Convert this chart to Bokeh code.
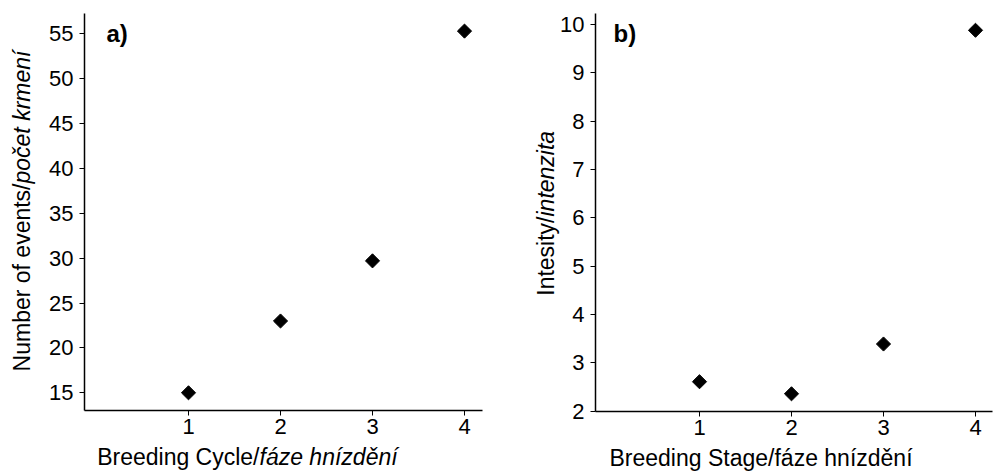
import math
from bokeh.plotting import figure
from bokeh.layouts import row
from bokeh.models import Label, FixedTicker, Range1d
from bokeh.embed import file_html
from bokeh.resources import INLINE

# ---- data ----
stages = [1, 2, 3, 4]
feeding_events = [15.0, 23.0, 29.7, 55.3]
intensity = [2.61, 2.36, 3.39, 9.88]
ticks_a_y = [15, 20, 25, 30, 35, 40, 45, 50, 55]
ticks_b_y = [2, 3, 4, 5, 6, 7, 8, 9, 10]
ticks_x = [1, 2, 3, 4]

FONT = "Liberation Sans"
TICK_SIZE = "22px"
TITLE_SIZE = "23px"
H = 473
SHIFT = 8  # compensation for baseline offset of rendered labels


def make_panel(width, x0_px, ppx, x_val0, y0_px, ppy, y_val0, x_axis_px, y_axis_px,
               x_bounds, y_bounds, yticks):
    # frame covers the whole canvas; axes are pinned with fixed_location
    xr = Range1d(x_val0 - x0_px / ppx, x_val0 + (width - x0_px) / ppx)
    yr = Range1d(y_val0 - (H - y0_px) / ppy, y_val0 + y0_px / ppy)
    p = figure(width=width, height=H, output_backend="svg", toolbar_location=None,
               x_range=xr, y_range=yr, min_border=0)
    p.outline_line_color = None
    p.xgrid.visible = False
    p.ygrid.visible = False
    p.background_fill_color = "white"
    p.border_fill_color = "white"
    for ax in (p.xaxis[0], p.yaxis[0]):
        ax.axis_line_color = "black"
        ax.axis_line_width = 1.5
        ax.major_tick_line_color = "black"
        ax.major_tick_line_width = 1
        ax.major_tick_in = 0
        ax.major_tick_out = 5
        ax.minor_tick_line_color = None
        ax.major_label_text_font = FONT
        ax.major_label_text_font_size = TICK_SIZE
        ax.major_label_text_color = "black"
    p.xaxis[0].ticker = FixedTicker(ticks=ticks_x)
    p.yaxis[0].ticker = FixedTicker(ticks=yticks)
    p.xaxis[0].major_label_standoff = 3
    p.yaxis[0].major_label_standoff = 6
    p.xaxis[0].fixed_location = y_val0 - (x_axis_px - y0_px) / ppy
    p.yaxis[0].fixed_location = x_val0 + (y_axis_px - x0_px) / ppx
    p.xaxis[0].bounds = x_bounds
    p.yaxis[0].bounds = y_bounds
    return p


def lab(p, x, y, text, angle=0.0, align="left", italic=False, bold=False, size=TITLE_SIZE):
    style_ = "bold" if bold else ("italic" if italic else "normal")
    if angle == 0.0:
        y = y - SHIFT
    else:
        x = x - SHIFT
    p.add_layout(Label(x=x, y=H - y, x_units="screen", y_units="screen", text=text,
                       angle=angle, text_align=align, text_baseline="alphabetic",
                       text_font=FONT, text_font_size=size, text_font_style=style_,
                       text_color="black"))


# ---- panel a ----  (canvas x 0..497)
pa = make_panel(497, 188, 92.0, 1, 392.3, 8.975, 15, 410, 84,
                (-0.13, 4.2), (13.03, 57.26), ticks_a_y)
pa.scatter(stages, feeding_events, marker="square", size=10, angle=math.pi / 4,
           fill_color="black", line_color="black")
lab(pa, 29, 183, "Number of events/", angle=math.pi / 2, align="right")
lab(pa, 29, 183, "počet krmení", angle=math.pi / 2, align="left", italic=True)
lab(pa, 259, 464, "Breeding Cycle/", align="right")
lab(pa, 259, 464, "fáze hnízdění", align="left", italic=True)
lab(pa, 106, 41, "a)", bold=True, size="24px")

# ---- panel b ----  (canvas x 497..995)
OX = 497
pb = make_panel(498, 699 - OX, 92.0, 1, 410.7, 48.34, 2, 411, 595 - OX,
                (-0.13, 4.19), (1.994, 10.228), ticks_b_y)
pb.scatter(stages, intensity, marker="square", size=10, angle=math.pi / 4,
           fill_color="black", line_color="black")
lab(pb, 553 - OX, 216, "Intesity/", angle=math.pi / 2, align="right")
lab(pb, 553 - OX, 216, "intenzita", angle=math.pi / 2, align="left", italic=True)
lab(pb, 609 - OX, 465, "Breeding Stage/fáze hnízdění", align="left")
lab(pb, 613 - OX, 41, "b)", bold=True, size="24px")

layout = row(pa, pb)
open("out.html", "w").write(file_html(layout, INLINE))
